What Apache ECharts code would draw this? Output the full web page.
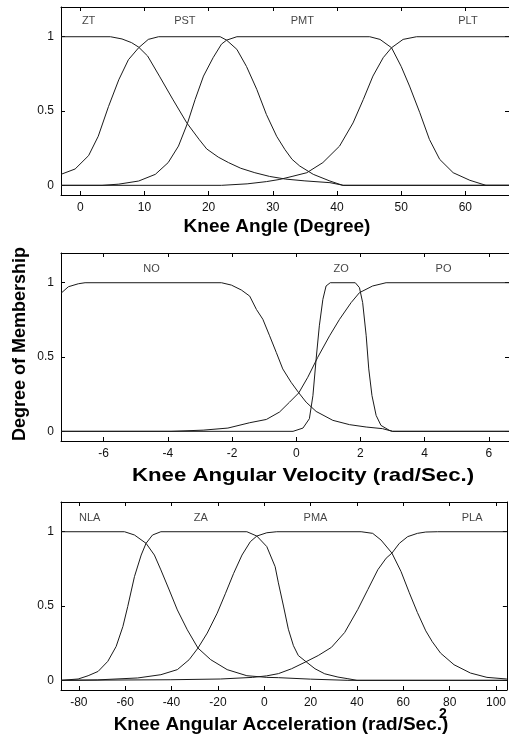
<!DOCTYPE html>
<html>
<head>
<meta charset="utf-8">
<title>Membership functions</title>
<script src="https://cdn.jsdelivr.net/npm/echarts@6/dist/echarts.min.js"></script>
<style>
    html, body { margin: 0; padding: 0; background: #fff; }
    #main { width: 509px; height: 742px; }
</style>
</head>
<body>
<div id="main"></div>
<script>
    // knee angle (degree)
    var angleNames = ['ZT', 'PST', 'PMT', 'PLT'];
    var angleLabelX = [1.3, 16.3, 34.6, 60.4];
    var angleTicks = [0, 10, 20, 30, 40, 50, 60];
    var ztPts = [[-3, 1], [4.7, 1], [6.5, 0.985], [8, 0.96], [9.1, 0.93], [10.5, 0.87], [12.4, 0.73], [14.4, 0.58], [16.6, 0.42], [18.5, 0.31], [19.7, 0.245], [21.5, 0.19], [23.1, 0.153], [25, 0.115], [27.2, 0.085], [29.5, 0.06], [32, 0.042], [35, 0.03], [38.9, 0.018], [41, 0], [66.8, 0]];
    var pstPts = [[-3, 0.074], [-0.8, 0.11], [1.3, 0.2], [2.8, 0.33], [4.4, 0.53], [6, 0.71], [7.5, 0.845], [9.1, 0.926], [10.6, 0.982], [12.2, 1], [21.8, 1], [22.8, 0.977], [24.4, 0.915], [25.9, 0.8], [27.5, 0.646], [29, 0.477], [30.6, 0.33], [31.9, 0.24], [33, 0.175], [34.2, 0.13], [36.3, 0.074], [38.9, 0.029], [40.9, 0], [66.8, 0]];
    var pmtPts = [[-3, 0], [3.4, 0], [6, 0.008], [9.1, 0.029], [11.7, 0.074], [13.7, 0.153], [15.3, 0.264], [16.7, 0.417], [17.9, 0.578], [19.2, 0.735], [20.7, 0.859], [22, 0.95], [22.8, 0.977], [24.4, 1], [45.1, 1], [46.7, 0.982], [48.5, 0.926], [50, 0.8], [51.3, 0.668], [52.9, 0.489], [54.4, 0.309], [56, 0.175], [58.1, 0.085], [60.7, 0.034], [63.2, 0], [66.8, 0]];
    var pltPts = [[-3, 0], [22, 0], [26, 0.01], [29, 0.025], [31.1, 0.04], [33, 0.06], [35.3, 0.085], [37.8, 0.153], [40.4, 0.264], [42.5, 0.42], [44.1, 0.578], [45.6, 0.735], [47.2, 0.859], [48.5, 0.926], [50.3, 0.982], [52.4, 1], [66.8, 1]];

    // knee angular velocity (rad/s)
    var velNames = ['NO', 'ZO', 'PO'];
    var velLabelX = [-4.51, 1.4, 4.59];
    var velTicks = [-6, -4, -2, 0, 2, 4, 6];
    var noPts = [[-7.33, 0.929], [-7.1, 0.973], [-6.79, 0.993], [-6.58, 1], [-2.33, 1], [-2.02, 0.984], [-1.71, 0.951], [-1.45, 0.91], [-1.24, 0.82], [-1.04, 0.754], [-0.83, 0.643], [-0.62, 0.53], [-0.42, 0.42], [-0.16, 0.33], [0.08, 0.259], [0.31, 0.196], [0.62, 0.134], [1.14, 0.074], [1.66, 0.045], [2.18, 0.029], [2.69, 0.018], [3, 0], [6.63, 0]];
    var zoPts = [[-7.33, 0], [-0.1, 0], [0.21, 0.022], [0.41, 0.085], [0.52, 0.24], [0.62, 0.487], [0.72, 0.71], [0.83, 0.888], [0.93, 0.978], [1.06, 1], [1.84, 1], [1.97, 0.967], [2.07, 0.866], [2.18, 0.643], [2.26, 0.42], [2.36, 0.241], [2.49, 0.107], [2.64, 0.04], [2.9, 0.007], [3, 0], [6.63, 0]];
    var poPts = [[-7.33, 0], [-3.9, 0], [-2.9, 0.008], [-2.13, 0.022], [-1.45, 0.058], [-0.93, 0.08], [-0.52, 0.13], [-0.21, 0.196], [0.08, 0.259], [0.36, 0.364], [0.67, 0.498], [1.04, 0.643], [1.35, 0.754], [1.71, 0.866], [1.97, 0.933], [2.38, 0.978], [2.8, 1], [6.63, 1]];

    // knee angular acceleration (rad/s^2)
    var accNames = ['NLA', 'ZA', 'PMA', 'PLA'];
    var accLabelX = [-75.3, -27.4, 22.1, 89.7];
    var accTicks = [-80, -60, -40, -20, 0, 20, 40, 60, 80, 100];
    var nlaPts = [[-87.7, 1], [-60.3, 1], [-56, 0.978], [-51, 0.922], [-47.4, 0.843], [-44.6, 0.743], [-41, 0.608], [-37.5, 0.474], [-33.2, 0.34], [-28.6, 0.217], [-23.1, 0.139], [-16, 0.072], [-7.5, 0.031], [1.1, 0.02], [6.1, 0.018], [20, 0.008], [36.1, 0], [104.7, 0]];
    var zaPts = [[-87.7, 0], [-80.3, 0.009], [-76, 0.031], [-71.7, 0.06], [-67.5, 0.128], [-63.9, 0.228], [-61, 0.362], [-58.9, 0.497], [-56, 0.698], [-53.1, 0.843], [-51, 0.922], [-48.2, 0.978], [-44.6, 1], [-7.5, 1], [-3.2, 0.971], [1.1, 0.9], [4.7, 0.765], [6.1, 0.656], [8.3, 0.5], [10.4, 0.344], [12.6, 0.233], [14.7, 0.167], [18.3, 0.122], [21.9, 0.078], [26.1, 0.044], [31.8, 0.022], [36.1, 0.011], [40, 0], [104.7, 0]];
    var pmaPts = [[-87.7, 0], [-72, 0.003], [-54.6, 0.016], [-44.6, 0.038], [-37.5, 0.072], [-32.4, 0.139], [-28.6, 0.217], [-24.6, 0.318], [-20.3, 0.452], [-16.7, 0.586], [-13.2, 0.72], [-9.6, 0.843], [-6, 0.933], [-3.2, 0.971], [1.1, 0.993], [5.4, 1], [41.8, 1], [46.8, 0.989], [50.4, 0.944], [55.1, 0.856], [59, 0.733], [62.6, 0.589], [66.1, 0.456], [69.7, 0.333], [72.5, 0.26], [76.1, 0.183], [81.9, 0.105], [89, 0.049], [96.1, 0.02], [104.7, 0.009]];
    var plaPts = [[-87.7, 0], [-40.3, 0.004], [-18.9, 0.009], [-5, 0.02], [1, 0.03], [6.1, 0.045], [11.8, 0.078], [17.6, 0.122], [23.3, 0.167], [29, 0.222], [34.7, 0.322], [40.4, 0.478], [44.7, 0.611], [49, 0.744], [52.6, 0.822], [55.1, 0.856], [58.3, 0.922], [61.9, 0.967], [66.1, 0.989], [69.7, 0.998], [74.7, 1], [104.7, 1]];

    var yTicks = [0, 0.5, 1];
    var font = '"Liberation Sans", Arial, sans-serif';

    var panels = [
        { top: 7, min: -3, max: 66.8, ticks: angleTicks, names: angleNames, labelX: angleLabelX, labelY: 1.105, curves: [ztPts, pstPts, pmtPts, pltPts] },
        { top: 253, min: -7.33, max: 6.63, ticks: velTicks, names: velNames, labelX: velLabelX, labelY: 1.095, curves: [noPts, zoPts, poPts] },
        { top: 502, min: -87.7, max: 104.7, ticks: accTicks, names: accNames, labelX: accLabelX, labelY: 1.095, curves: [nlaPts, zaPts, pmaPts, plaPts] }
    ];

    var grid = [], xAxis = [], yAxis = [], series = [];

    panels.forEach(function (p, i) {
        grid.push({ left: 61, top: p.top, width: 449, height: 188 });

        // bottom + top x axes (top one only for the inner ticks)
        ['bottom', 'top'].forEach(function (pos) {
            xAxis.push({
                type: 'value', gridIndex: i, position: pos, min: p.min, max: p.max,
                axisLine: { show: true, onZero: false, lineStyle: { color: '#000', width: 1 } },
                axisTick: { show: true, inside: true, length: 4, customValues: p.ticks, lineStyle: { color: '#000' } },
                axisLabel: { show: pos === 'bottom', customValues: p.ticks, margin: 7, color: '#111', fontSize: 12, fontFamily: font },
                splitLine: { show: false }
            });
        });
        ['left', 'right'].forEach(function (pos) {
            yAxis.push({
                type: 'value', gridIndex: i, position: pos, min: -0.065, max: 1.2,
                axisLine: { show: true, onZero: false, lineStyle: { color: '#000', width: 1 } },
                axisTick: { show: true, inside: true, length: 4, customValues: yTicks, lineStyle: { color: '#000' } },
                axisLabel: { show: pos === 'left', customValues: yTicks, margin: 7, color: '#111', fontSize: 12, fontFamily: font },
                splitLine: { show: false }
            });
        });

        p.curves.forEach(function (pts, k) {
            series.push({
                name: p.names[k], type: 'line', xAxisIndex: 2 * i, yAxisIndex: 2 * i,
                data: pts, symbol: 'none', smooth: false, silent: true,
                lineStyle: { color: '#1a1a1a', width: 1 }
            });
        });

        // curve names along the top
        series.push({
            type: 'scatter', xAxisIndex: 2 * i, yAxisIndex: 2 * i, silent: true,
            symbolSize: 1, itemStyle: { color: 'rgba(0,0,0,0)' },
            data: p.names.map(function (n, k) { return [p.labelX[k], p.labelY, n]; }),
            label: {
                show: true, position: 'inside', color: '#111', fontSize: 11, fontFamily: font,
                formatter: function (prm) { return prm.data[2]; }
            }
        });
    });

    var titleFont = 'bold 19px ' + font;

    var option = {
        animation: false,
        backgroundColor: '#fff',
        grid: grid,
        xAxis: xAxis,
        yAxis: yAxis,
        series: series,
        graphic: [
            { type: 'text', x: 277, y: 227, style: { text: 'Knee Angle (Degree)', font: titleFont, fill: '#000', align: 'center', verticalAlign: 'middle' } },
            { type: 'text', x: 303, y: 476, scaleX: 1.17, style: { text: 'Knee Angular Velocity (rad/Sec.)', font: titleFont, fill: '#000', align: 'center', verticalAlign: 'middle' } },
            { type: 'text', x: 281, y: 725, style: { text: 'Knee Angular Acceleration (rad/Sec.)', font: titleFont, fill: '#000', align: 'center', verticalAlign: 'middle' } },
            { type: 'text', x: 443, y: 714, style: { text: '2', font: 'bold 14px ' + font, fill: '#000', align: 'center', verticalAlign: 'middle' } },
            { type: 'text', x: 20, y: 344, rotation: Math.PI / 2, style: { text: 'Degree of Membership', font: 'bold 18px ' + font, fill: '#000', align: 'center', verticalAlign: 'middle' } }
        ]
    };

    var myChart = echarts.init(document.getElementById('main'));
    myChart.setOption(option);
</script>
</body>
</html>
